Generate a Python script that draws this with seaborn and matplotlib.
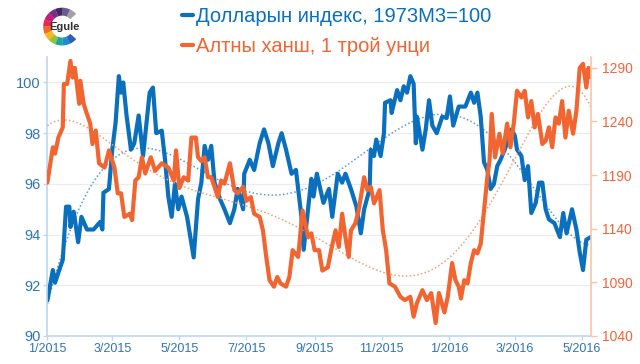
import numpy as np
import pandas as pd
import seaborn as sns
import matplotlib
matplotlib.use("Agg")
from matplotlib import pyplot as plt
from matplotlib import dates as mdates
from matplotlib import ticker
from matplotlib.patches import Wedge
from matplotlib.lines import Line2D

sns.set_theme(style="white")
plt.rcParams['font.family'] = ['Liberation Sans', 'DejaVu Sans']
# -----------------------------
# data (days since 1 Jan 2015)
usd_days = [0, 5, 7, 10, 14, 17, 20, 21, 24, 28, 31, 36, 42, 48, 50, 51, 56, 59, 62, 65,
            67, 69, 72, 76, 79, 83, 87, 93, 96, 99, 104, 107, 110, 113, 116, 119, 122, 127, 133, 137,
            140, 143, 146, 149, 152, 157, 161, 166, 170, 173, 178, 179, 184, 188, 193, 197, 201, 205, 210, 213,
            217, 222, 226, 231, 233, 237, 240, 242, 245, 251, 256, 259, 264, 268, 271, 276, 281, 285, 288, 293,
            294, 297, 299, 303, 306, 307, 312, 313, 318, 321, 324, 327, 330, 333, 335, 336, 341, 344, 347, 350,
            354, 359, 363, 366, 369, 374, 380, 385, 388, 391, 394, 397, 400, 403, 406, 409, 412, 418, 422, 425,
            427, 431, 434, 437, 440, 444, 447, 450, 453, 456, 461, 466, 469, 472, 477, 481, 484, 487, 490, 494]
usd_index = [91.4, 92.6, 92.1, 92.5, 93.0, 95.1, 95.1, 94.3, 94.9, 93.7, 94.7, 94.2, 94.2, 94.5, 94.2, 95.65, 95.8, 97.35, 98.4, 100.25,
             99.6, 100.0, 98.7, 97.35, 97.6, 98.7, 97.1, 99.6, 99.8, 98.0, 98.1, 96.95, 95.5, 94.7, 96.0, 95.0, 95.5, 94.7, 93.1, 95.4,
             96.05, 97.5, 96.95, 97.5, 96.05, 95.4, 95.0, 94.45, 95.0, 95.8, 95.0, 96.4, 96.95, 96.55, 97.6, 98.15, 97.6, 96.7, 97.6, 98.0,
             97.35, 96.4, 96.55, 94.7, 93.4, 95.0, 96.2, 95.5, 96.4, 95.25, 95.8, 94.7, 96.4, 96.05, 96.4, 95.8, 95.1, 94.05, 95.0, 95.8,
             97.35, 97.1, 97.75, 97.1, 98.0, 99.2, 99.3, 98.8, 99.7, 99.3, 99.85, 99.6, 100.25, 99.95, 97.6, 98.65, 97.35, 98.15, 99.3, 98.3,
             98.0, 98.65, 98.6, 99.45, 98.3, 99.05, 99.05, 99.6, 99.2, 99.6, 98.65, 96.85, 96.55, 95.8, 96.0, 96.7, 96.95, 97.6, 98.15, 97.9,
             97.35, 97.1, 96.15, 96.7, 94.85, 95.25, 96.05, 96.05, 95.0, 94.6, 94.45, 93.9, 94.85, 94.05, 95.0, 94.2, 93.3, 92.6, 93.8, 93.9]

gold_days = [0, 5, 7, 10, 14, 15, 18, 21, 23, 25, 29, 30, 33, 35, 39, 41, 44, 47, 52, 56,
             61, 64, 67, 70, 75, 77, 80, 83, 86, 89, 94, 98, 104, 110, 115, 117, 120, 124, 128, 131,
             135, 137, 140, 143, 146, 149, 152, 155, 158, 161, 166, 170, 173, 178, 181, 185, 188, 193, 196, 199,
             202, 206, 209, 212, 217, 220, 223, 228, 232, 237, 240, 243, 247, 250, 255, 258, 262, 265, 268, 271,
             274, 276, 280, 283, 288, 291, 294, 297, 302, 305, 308, 311, 316, 321, 325, 330, 333, 336, 341, 345,
             349, 353, 356, 361, 364, 368, 371, 374, 376, 379, 382, 385, 388, 391, 394, 397, 400, 402, 404, 407,
             411, 414, 418, 421, 424, 427, 431, 434, 437, 440, 443, 446, 450, 453, 456, 459, 462, 465, 468, 471,
             474, 478, 481, 484, 487, 490, 492, 494]
gold_price = [1183, 1216, 1210, 1225, 1234.5, 1275, 1275, 1296.5, 1281, 1290, 1256.5, 1278, 1256.5, 1250, 1238, 1219, 1231.5, 1201, 1197, 1213,
              1197, 1173, 1173, 1151, 1154, 1148, 1185, 1188, 1206.6, 1191.5, 1206.6, 1194, 1201, 1197, 1185, 1213, 1178, 1188, 1185, 1225,
              1225, 1206.6, 1203, 1206.6, 1188, 1188, 1179, 1169.5, 1185, 1182, 1201, 1176, 1173, 1179, 1166, 1169.5, 1154, 1151, 1138.5, 1113.7,
              1092, 1086, 1095, 1089, 1086, 1095, 1120, 1113.7, 1157, 1132, 1135.7, 1120, 1120, 1101, 1104, 1120, 1138.5, 1123, 1154, 1132,
              1113.7, 1138.5, 1145, 1157, 1188, 1176, 1179, 1163.6, 1176, 1138.5, 1120, 1089, 1086, 1076.5, 1073.5, 1076.5, 1058, 1070.7, 1082.7, 1073.5,
              1080, 1052, 1080, 1062, 1076.5, 1108, 1092, 1086, 1075, 1092, 1089, 1108, 1120, 1117, 1126, 1157, 1188, 1203.5, 1247, 1206.6,
              1228.6, 1210, 1238, 1216, 1238, 1268.6, 1262.4, 1268.6, 1243.8, 1259, 1234.5, 1247, 1219, 1222, 1234.5, 1216, 1243.8, 1238, 1259, 1225,
              1250, 1228.6, 1250, 1290, 1293.7, 1271.7, 1290, 1281]

usd_label = "Долларын индекс, 1973М3=100"
gold_label = "Алтны ханш, 1 трой унци"
left_ticks = [90, 92, 94, 96, 98, 100]
right_ticks = [1040, 1090, 1140, 1190, 1240, 1290]
# -----------------------------
blue = "#0a70bd"
orange = "#f26430"
blue_txt = "#2e75b6"
orange_txt = "#f0653a"

t0 = pd.Timestamp("2015-01-01")
dfu = pd.DataFrame({"date": t0 + pd.to_timedelta(usd_days, unit="D"), "val": usd_index})
dfg = pd.DataFrame({"date": t0 + pd.to_timedelta(gold_days, unit="D"), "val": gold_price})

# polynomial trend lines (order 6) like the spreadsheet trendlines
tt = np.arange(0, 495)
pu = np.polyfit(np.array(usd_days) / 100.0, usd_index, 6)
pg = np.polyfit(np.array(gold_days) / 100.0, gold_price, 6)
dftu = pd.DataFrame({"date": t0 + pd.to_timedelta(tt, unit="D"), "val": np.polyval(pu, tt / 100.0)})
dftg = pd.DataFrame({"date": t0 + pd.to_timedelta(tt, unit="D"), "val": np.polyval(pg, tt / 100.0)})

fh = plt.figure(figsize=(6.4, 3.64), dpi=100)
ah = fh.add_axes([0.074, 0.077, 0.849, 0.766])
ah2 = ah.twinx()

sns.lineplot(data=dftu, x="date", y="val", ax=ah, color="#5b9bd5", linewidth=1.1, linestyle=(0, (1, 1.5)))
sns.lineplot(data=dfu, x="date", y="val", ax=ah, color=blue, linewidth=3.0)
sns.lineplot(data=dftg, x="date", y="val", ax=ah2, color="#f4a070", linewidth=1.1, linestyle=(0, (1, 1.5)))
sns.lineplot(data=dfg, x="date", y="val", ax=ah2, color=orange, linewidth=3.0)

ah.set_ylim(90, 101)
ah2.set_ylim(1040, 1300)
ah.set_xlim(t0, t0 + pd.Timedelta(days=494))
ah.set_yticks(left_ticks)
ah2.set_yticks(right_ticks)
ah.xaxis.set_major_locator(mdates.MonthLocator(bymonth=[1, 3, 5, 7, 9, 11]))
ah.xaxis.set_major_formatter(ticker.FuncFormatter(lambda v, p: "%d/%d" % (mdates.num2date(v).month, mdates.num2date(v).year)))

ah.set_xlabel("")
ah.set_ylabel("")
ah2.set_ylabel("")
ah.grid(axis="y", color="#ebebeb", linewidth=0.8)
ah.set_axisbelow(True)

for a in (ah, ah2):
    a.spines["top"].set_visible(False)
ah.spines["right"].set_visible(False)
ah2.spines["left"].set_visible(False)
ah2.spines["bottom"].set_visible(False)
ah.spines["left"].set_color("#bdd7ee")
ah.spines["bottom"].set_color("#bdd7ee")
ah2.spines["right"].set_color("#f8c4a8")
for s in ("left", "bottom"):
    ah.spines[s].set_linewidth(1.2)
ah2.spines["right"].set_linewidth(1.2)

ah.tick_params(axis="y", left=True, direction="out", length=3, width=1, color="#bdd7ee", labelsize=10.5, labelcolor=blue_txt, pad=2)
ah.tick_params(axis="x", bottom=True, direction="out", length=3, width=1, color="#bdd7ee", labelsize=9, labelcolor=blue_txt, pad=2)
ah2.tick_params(axis="y", right=True, direction="out", length=4, width=1, color="#f8c4a8", labelsize=10, labelcolor=orange_txt, pad=4)

# legend at top
handles = [Line2D([], [], color=blue, linewidth=3), Line2D([], [], color=orange, linewidth=3)]
fh.legend(handles, [usd_label, gold_label], loc="upper left", bbox_to_anchor=(0.272, 1.003), frameon=False,
          handlelength=0.55, handletextpad=0.15, fontsize=14.5, labelspacing=0.55, labelcolor="linecolor",
          borderaxespad=0.0)

# Egule logo
lg = fh.add_axes([0.066, 0.865, 0.062, 0.124])
lg.set_xlim(-1.05, 1.05)
lg.set_ylim(-1.05, 1.05)
lg.set_aspect("equal")
lg.axis("off")
logo_colors = ["#a39fb0", "#6b5a8a", "#3f2a63", "#7a2c8c", "#c41c7f", "#e52a4c", "#f26a2a",
               "#f9b81a", "#8cc63e", "#1ca89a", "#1a8fd0", "#2c5fb8"]
a0, a1 = 42.0, 318.0
step = (a1 - a0) / len(logo_colors)
for i, c in enumerate(logo_colors):
    lg.add_patch(Wedge((0, 0), 1.0, a0 + i * step, a0 + (i + 1) * step + 0.5, width=0.42, color=c, linewidth=0))
lg.text(0.15, 0.0, "Egule", ha="center", va="center", fontsize=8, fontweight="bold", color="#333333")

fh.savefig("out.png", dpi=100)
